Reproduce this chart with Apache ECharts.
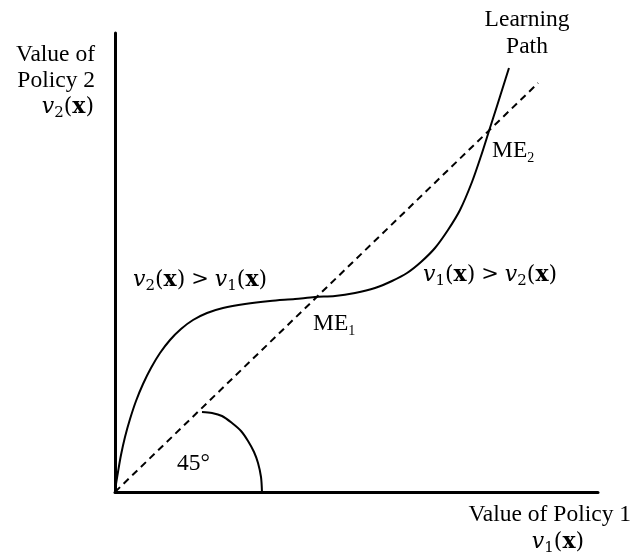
<!DOCTYPE html>
<html>
<head>
<meta charset="utf-8">
<script src="https://cdn.jsdelivr.net/npm/echarts@6/dist/echarts.min.js"></script>
<style>
html, body { margin: 0; background: #fff; }
#chart { width: 638px; height: 559px; }
</style>
</head>
<body>
<div id="chart"></div>
<script>
// both axes run 0..100
var pathX = [0, 0.21, 0.62, 1.24, 2.07, 3.11, 4.35, 5.80, 7.45, 9.32, 11.39, 13.66, 16.15, 19.05, 22.36, 26.92,
    32.09, 37.27, 41.41, 45.55, 49.69, 53.83, 57.35, 60.46, 63.35, 66.25, 68.94, 71.43, 73.91, 75.78, 77.43, 79.09, 80.33, 81.57];
var pathY = [0, 1.74, 4.36, 8.06, 11.98, 15.90, 19.83, 23.53, 27.02, 30.28, 33.12, 35.51, 37.47, 39.00, 40.09, 40.96,
    41.61, 42.05, 42.48, 42.70, 43.36, 44.44, 45.97, 47.71, 50.11, 53.16, 57.08, 61.44, 67.54, 73.20, 78.65, 84.10, 88.24, 92.37];

// 45 degree line
var diagX = [0, 87.6];
var diagY = [0, 89.1];

// angle mark
var arcX = [18.01, 20.08, 22.15, 24.22, 26.09, 27.54, 28.78, 29.61, 30.23, 30.43];
var arcY = [17.43, 17.21, 16.56, 15.03, 13.29, 11.11, 8.71, 6.32, 3.27, 0];

function pairs(xs, ys) {
    var out = [];
    for (var i = 0; i < xs.length; i++) {
        out.push([xs[i], ys[i]]);
    }
    return out;
}

var serif = 'Liberation Serif';
var mathFont = 'DejaVu Serif';
var rich = {
    t: { fontFamily: serif, fontSize: 23.5, lineHeight: 28, color: '#000' },
    v: { fontFamily: mathFont, fontSize: 22, lineHeight: 28, fontStyle: 'italic', color: '#000' },
    p: { fontFamily: mathFont, fontSize: 22, lineHeight: 28, color: '#000' },
    g: { fontFamily: mathFont, fontSize: 21, lineHeight: 28, color: '#000', padding: [0, 6, 0, 6] },
    b: { fontFamily: mathFont, fontSize: 22, lineHeight: 28, fontWeight: 'bold', color: '#000' },
    s: { fontFamily: mathFont, fontSize: 15, lineHeight: 14, verticalAlign: 'bottom', color: '#000' },
    m: { fontFamily: serif, fontSize: 14, lineHeight: 8, verticalAlign: 'bottom', color: '#000' }
};

function label(text, x, y, align) {
    return {
        type: 'text',
        x: x,
        y: y,
        style: {
            text: text,
            rich: rich,
            align: align || 'left',
            verticalAlign: 'top'
        }
    };
}

function v(n) {
    return '{v|v}{s|' + n + '}{p|(}{b|x}{p|)}';
}

var myChart = echarts.init(document.getElementById('chart'));

var axisStyle = {
    show: true,
    lineStyle: { color: '#000', width: 3 }
};

var option = {
    animation: false,
    backgroundColor: '#fff',
    grid: { left: 115, top: 33, width: 483, height: 459 },
    xAxis: {
        type: 'value', min: 0, max: 100,
        axisLine: axisStyle, axisTick: { show: false },
        axisLabel: { show: false }, splitLine: { show: false }
    },
    yAxis: {
        type: 'value', min: 0, max: 100,
        axisLine: axisStyle, axisTick: { show: false },
        axisLabel: { show: false }, splitLine: { show: false }
    },
    series: [
        {
            type: 'line',
            data: pairs(pathX, pathY),
            smooth: 0.3,
            symbol: 'none',
            lineStyle: { color: '#000', width: 2 }
        },
        {
            type: 'line',
            data: pairs(diagX, diagY),
            symbol: 'none',
            lineStyle: { color: '#000', width: 2, type: [7, 5] }
        },
        {
            type: 'line',
            data: pairs(arcX, arcY),
            smooth: 0.3,
            symbol: 'none',
            lineStyle: { color: '#000', width: 2 }
        }
    ],
    graphic: [
        label('{t|Value of}', 95, 41, 'right'),
        label('{t|Policy 2}', 95, 67, 'right'),
        label(v(2), 94, 93, 'right'),
        label('{t|Learning}', 527, 6, 'center'),
        label('{t|Path}', 527, 33, 'center'),
        label('{t|ME}{m|2}', 492, 137),
        label('{t|ME}{m|1}', 313, 310),
        label(v(2) + '{g|>}' + v(1), 133, 266),
        label(v(1) + '{g|>}' + v(2), 423, 261),
        label('{t|45°}', 177, 450),
        label('{t|Value of Policy 1}', 631, 501, 'right'),
        label(v(1), 558, 528, 'center')
    ]
};

myChart.setOption(option);
</script>
</body>
</html>
